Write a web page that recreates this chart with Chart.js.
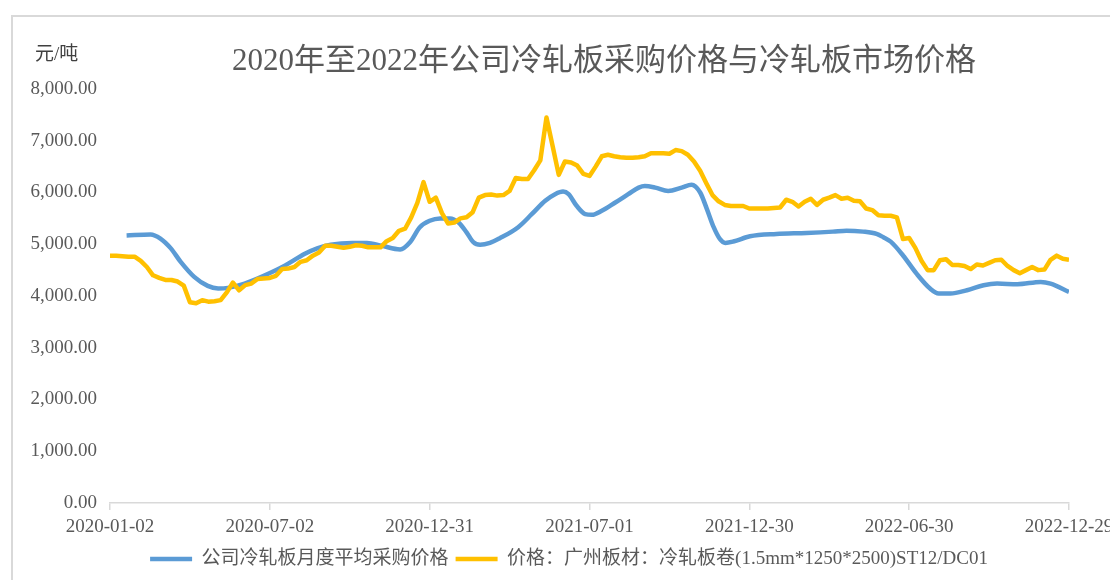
<!DOCTYPE html>
<html>
<head>
<meta charset="utf-8">
<script src="https://cdn.jsdelivr.net/npm/chart.js@4.4.0/dist/chart.umd.min.js"></script>
<style>
  html, body { margin: 0; padding: 0; background: #fff; overflow: hidden; }
  #wrap { position: relative; width: 1110px; height: 580px; overflow: hidden; }
  #frame { position: absolute; left: 11px; top: 15px; right: -10px; bottom: -10px;
           border-left: 2px solid #d9d9d9; border-top: 2px solid #d9d9d9; }
  canvas { position: absolute; left: 0; top: 0; }
</style>
</head>
<body>
<div id="wrap">
  <div id="frame"></div>
  <canvas id="chart" width="1110" height="580"></canvas>
</div>
<script>
// 横轴刻度（每26周一个）
const tickDates = ["2020-01-02", "2020-07-02", "2020-12-31", "2021-07-01", "2021-12-30", "2022-06-30", "2022-12-29"];

// 广州板材冷轧板卷市场价格，按周（第0周 = 2020-01-02）
const marketPrice = [
  4780, 4780, 4770, 4760, 4760, 4680, 4560, 4400, 4350, 4310,
  4310, 4280, 4200, 3880, 3860, 3920, 3890, 3900, 3920, 4070,
  4260, 4110, 4210, 4240, 4330, 4340, 4350, 4390, 4520, 4530,
  4560, 4660, 4690, 4780, 4840, 4970, 4970, 4950, 4930, 4950,
  4980, 4970, 4940, 4940, 4940, 5060, 5120, 5260, 5300, 5520,
  5800, 6200, 5820, 5900, 5600, 5400, 5420, 5500, 5520, 5620,
  5900, 5950, 5960, 5940, 5950, 6030, 6280, 6260, 6260, 6430,
  6620, 7450, 6900, 6340, 6600, 6580, 6520, 6360, 6320, 6500,
  6700, 6730, 6700, 6680, 6670, 6670, 6680, 6700, 6760, 6760,
  6760, 6750, 6820, 6800, 6730, 6600, 6420, 6180, 5950, 5830,
  5760, 5740, 5740, 5740, 5690, 5690, 5690, 5690, 5700, 5710,
  5860, 5820, 5730, 5820, 5880, 5760, 5860, 5900, 5950, 5880,
  5900, 5840, 5830, 5690, 5660, 5560, 5550, 5550, 5520, 5100,
  5120, 4930, 4680, 4500, 4500, 4690, 4710, 4600, 4600, 4580,
  4520, 4610, 4590, 4640, 4690, 4700, 4580, 4500, 4440, 4500,
  4560, 4500, 4510, 4700, 4780, 4720, 4700
];

// 公司冷轧板月度平均采购价格（平滑曲线上的读数，横坐标为周）
const purchaseWeek = [
  2.7, 6.6, 8.2, 9.9, 11.5, 13.7, 15.9, 17.6, 19.2, 21.9,
  25.2, 28.5, 31.7, 33.7, 35.9, 39.4, 41.8, 44.2, 47.2, 48.8,
  50.4, 52.0, 53.7, 55.3, 56.7, 58.0, 59.1, 60.2, 61.8, 63.4,
  66.4, 68.6, 70.8, 72.4, 73.7, 74.6, 75.9, 77.3, 78.4, 80.0,
  82.2, 84.3, 86.0, 87.0, 88.7, 90.8, 93.0, 94.6, 96.0, 97.1,
  98.2, 99.2, 100.1, 101.4, 104.1, 108.4, 113.3, 117.6, 119.8, 122.5,
  124.7, 125.8, 127.0, 129.0, 131.2, 133.4, 134.8, 136.7, 139.4, 142.1,
  144.3, 147.6, 151.4, 153.0, 156.0
];
const purchasePrice = [
  5170, 5190, 5110, 4920, 4660, 4370, 4195, 4145, 4157, 4240,
  4400, 4590, 4815, 4920, 4990, 5026, 5026, 4970, 4900, 5040,
  5330, 5455, 5500, 5500, 5420, 5230, 5040, 4990, 5026, 5116,
  5330, 5580, 5840, 5967, 6018, 5967, 5743, 5583, 5570, 5647,
  5807, 5967, 6095, 6126, 6095, 6030, 6095, 6150, 6000, 5680,
  5330, 5103, 5026, 5052, 5154, 5199, 5218, 5244, 5263, 5244,
  5199, 5135, 5050, 4783, 4432, 4144, 4048, 4048, 4111, 4208,
  4240, 4227, 4272, 4240, 4080
];

const FONT = "'Liberation Serif', 'Noto Sans CJK SC', serif";
const GREY = "#595959";
const chartTitle = "2020年至2022年公司冷轧板采购价格与冷轧板市场价格";

// 标题和单位直接画在画布上
const textPlugin = {
  id: "texts",
  afterDraw(chart) {
    const c = chart.ctx;
    c.save();
    c.fillStyle = GREY;
    c.font = "31px " + FONT;
    c.textAlign = "center";
    c.textBaseline = "middle";
    c.fillText(chartTitle, 604, 62);
    c.fillStyle = "#404040";
    c.font = "19px " + FONT;
    c.textAlign = "left";
    c.fillText("元/吨", 35, 55);
    c.restore();
  },
};

new Chart(document.getElementById("chart"), {
  type: "line",
  data: {
    datasets: [
      {
        label: "公司冷轧板月度平均采购价格",
        data: purchaseWeek.map((w, i) => ({ x: w, y: purchasePrice[i] })),
        borderColor: "#5B9BD5",
        backgroundColor: "#5B9BD5",
        borderWidth: 4.5,
        pointRadius: 0,
        cubicInterpolationMode: "monotone",
        order: 2,
      },
      {
        label: "价格：广州板材：冷轧板卷(1.5mm*1250*2500)ST12/DC01",
        data: marketPrice.map((v, i) => ({ x: i, y: v })),
        borderColor: "#FFC000",
        backgroundColor: "#FFC000",
        borderWidth: 4.5,
        borderJoinStyle: "round",
        pointRadius: 0,
        tension: 0,
        order: 1,
      },
    ],
  },
  options: {
    responsive: false,
    animation: false,
    layout: { padding: { left: 28, right: 0, top: 89, bottom: 1.5 } },
    plugins: {
      title: { display: false },
      tooltip: { enabled: false },
      legend: {
        position: "bottom",
        labels: {
          usePointStyle: true,
          pointStyle: "line",
          pointStyleWidth: 42,
          padding: 7,
          color: GREY,
          font: { family: FONT, size: 19 },
          sort: (a, b) => a.datasetIndex - b.datasetIndex,
        },
      },
    },
    scales: {
      x: {
        type: "linear",
        min: 0,
        max: 156,
        ticks: {
          stepSize: 26,
          autoSkip: false,
          maxRotation: 0,
          padding: 6,
          color: GREY,
          font: { family: FONT, size: 19 },
          callback: (v) => tickDates[v / 26],
        },
        grid: { drawOnChartArea: false, drawTicks: true, tickLength: 7, color: "#D9D9D9", lineWidth: 1.5 },
        border: { color: "#D9D9D9", width: 1.5 },
        afterFit(scale) {
          scale.height = 39.5;
          scale.paddingRight = 41;
        },
      },
      y: {
        min: 0,
        max: 8000,
        ticks: {
          stepSize: 1000,
          padding: 13,
          color: GREY,
          font: { family: FONT, size: 19 },
          callback: (v) => v.toLocaleString("en-US", { minimumFractionDigits: 2, maximumFractionDigits: 2 }),
        },
        grid: { display: false, drawTicks: false },
        border: { display: false },
        afterFit(scale) {
          scale.width = 82;
        },
      },
    },
  },
  plugins: [textPlugin],
});
</script>
</body>
</html>
